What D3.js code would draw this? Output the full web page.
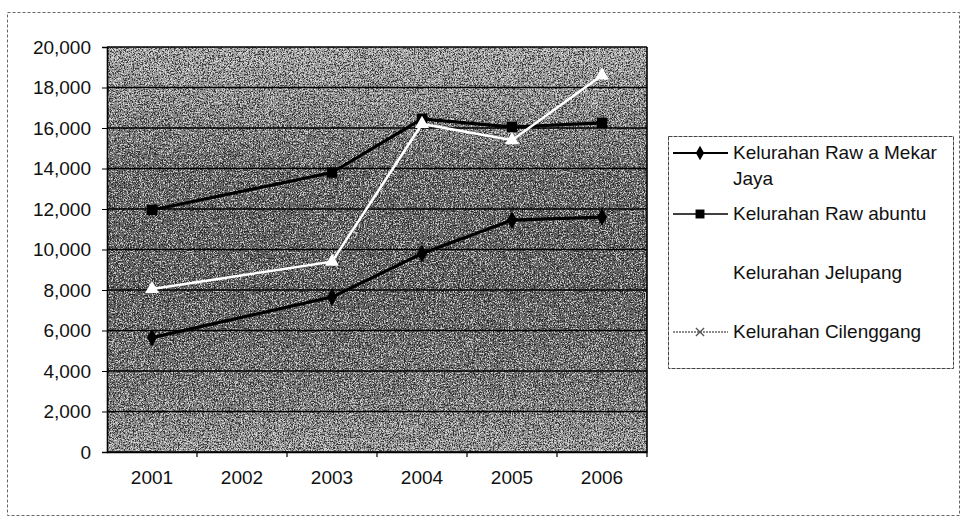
<!DOCTYPE html>
<html>
<head>
<meta charset="utf-8">
<script src="https://cdn.jsdelivr.net/npm/d3@7"></script>
<style>
  html, body { margin: 0; padding: 0; background: #fff; }
  svg { display: block; font-family: "Liberation Sans", Arial, sans-serif; }
</style>
</head>
<body>
<svg id="chart" width="967" height="531"></svg>
<script>
const years = ["2001", "2002", "2003", "2004", "2005", "2006"];
const yTicks = [0, 2000, 4000, 6000, 8000, 10000, 12000, 14000, 16000, 18000, 20000];

// 2002 has no visible marker in the picture, so it is left empty
const rawaMekarJaya = [5650, null, 7650, 9800, 11450, 11600];
const rawabuntu = [11950, null, 13800, 16450, 16050, 16250];
const jelupang = [8050, null, 9400, 16200, 15400, 18600];
// Cilenggang line is not readable on the scanned background
const cilenggang = [null, null, null, null, null, null];

const seriesNames = [
  ["Kelurahan Raw a Mekar", "Jaya"],
  ["Kelurahan Raw abuntu"],
  ["Kelurahan Jelupang"],
  ["Kelurahan Cilenggang"],
];

const series = [
  { name: seriesNames[0], values: rawaMekarJaya, color: "#000", width: 3.2, marker: "diamond" },
  { name: seriesNames[1], values: rawabuntu, color: "#000", width: 3.2, marker: "square" },
  { name: seriesNames[2], values: jelupang, color: "#fff", width: 2.5, marker: "triangle" },
  { name: seriesNames[3], values: cilenggang, color: "#777", width: 1.5, marker: "cross" },
];

const svg = d3.select("#chart");
const margin = { top: 47, left: 107 };
const innerWidth = 540;
const innerHeight = 405;

// outer chart border (scanned, dotted)
svg.append("rect")
  .attr("x", 7.5).attr("y", 12.5)
  .attr("width", 952).attr("height", 503)
  .attr("fill", "none")
  .attr("stroke", "#666")
  .attr("stroke-width", 1)
  .attr("stroke-dasharray", "3,2");

const defs = svg.append("defs");
const grad = defs.append("linearGradient")
  .attr("id", "bg").attr("x1", 0).attr("y1", 0).attr("x2", 0).attr("y2", 1);
[[0, "#a4a4a4"], [0.12, "#929292"], [0.3, "#6c6c6c"], [0.6, "#646464"], [0.85, "#7a7a7a"], [1, "#9a9a9a"]]
  .forEach(([o, c]) => grad.append("stop").attr("offset", o).attr("stop-color", c));

// speckle texture of the scan
const makeNoise = (id, rgb, freq, seed) => {
  const f = defs.append("filter").attr("id", id)
    .attr("x", 0).attr("y", 0).attr("width", 1).attr("height", 1)
    .attr("color-interpolation-filters", "sRGB");
  f.append("feTurbulence")
    .attr("type", "fractalNoise")
    .attr("baseFrequency", freq)
    .attr("numOctaves", 2)
    .attr("seed", seed);
  f.append("feColorMatrix")
    .attr("type", "matrix")
    .attr("values", `0 0 0 0 ${rgb}  0 0 0 0 ${rgb}  0 0 0 0 ${rgb}  6 0 0 0 -3`);
  f.append("feComponentTransfer")
    .append("feFuncA").attr("type", "discrete").attr("tableValues", "0 0 1 1");
};
makeNoise("noise", 1, "0.75 0.9", 3);
makeNoise("noiseDark", 0, "0.8 0.7", 11);

const chart = svg.append("g")
  .attr("transform", `translate(${margin.left},${margin.top})`);

const x = d3.scaleBand().domain(years).range([0, innerWidth]).padding(0);
const y = d3.scaleLinear().domain([0, 20000]).range([innerHeight, 0]);
const cx = (d) => x(d) + x.bandwidth() / 2;

chart.append("rect")
  .attr("width", innerWidth).attr("height", innerHeight)
  .attr("fill", "url(#bg)");
chart.append("rect")
  .attr("width", innerWidth).attr("height", innerHeight)
  .attr("fill", "#000")
  .attr("filter", "url(#noise)").attr("opacity", 0.6);
chart.append("rect")
  .attr("width", innerWidth).attr("height", innerHeight)
  .attr("fill", "#000")
  .attr("filter", "url(#noiseDark)").attr("opacity", 0.6);

// gridlines
chart.append("g")
  .selectAll("line")
  .data(yTicks)
  .join("line")
  .attr("x1", 0).attr("x2", innerWidth)
  .attr("y1", (d) => y(d)).attr("y2", (d) => y(d))
  .attr("stroke", "#000")
  .attr("stroke-width", 1.6);

chart.append("line")
  .attr("x1", innerWidth).attr("x2", innerWidth)
  .attr("y1", 0).attr("y2", innerHeight)
  .attr("stroke", "#000").attr("stroke-width", 1.6);

// axes
const yAxis = chart.append("g")
  .call(d3.axisLeft(y).tickValues(yTicks).tickSize(5).tickPadding(11).tickFormat(d3.format(",")));
yAxis.attr("font-size", 19);
yAxis.select(".domain").attr("stroke-width", 1.6);
yAxis.selectAll("text").attr("fill", "#111")
  .attr("font-family", "'Liberation Sans', Arial, sans-serif");

const xAxis = chart.append("g")
  .attr("transform", `translate(0,${innerHeight})`)
  .call(d3.axisBottom(x).tickSize(0).tickPadding(19));
xAxis.attr("font-size", 19);
xAxis.select(".domain").attr("stroke-width", 1.6);
xAxis.selectAll("text").attr("fill", "#111")
  .attr("font-family", "'Liberation Sans', Arial, sans-serif");
xAxis.selectAll(".boundary")
  .data(years.slice(1).concat(["end"]))
  .join("line")
  .attr("class", "boundary")
  .attr("x1", (d) => (d === "end" ? innerWidth : x(d)))
  .attr("x2", (d) => (d === "end" ? innerWidth : x(d)))
  .attr("y1", 0).attr("y2", 5)
  .attr("stroke", "#000").attr("stroke-width", 1.2);

const markerPath = {
  diamond: d3.symbol().type(d3.symbolDiamond).size(90)(),
  square: d3.symbol().type(d3.symbolSquare).size(110)(),
  triangle: d3.symbol().type(d3.symbolTriangle).size(85)(),
  cross: d3.symbol().type(d3.symbolX).size(60)(),
};

const line = d3.line()
  .x((d) => cx(d.year))
  .y((d) => y(d.value));

series.forEach((s) => {
  const pts = years
    .map((year, i) => ({ year, value: s.values[i] }))
    .filter((d) => d.value != null);
  if (!pts.length) return;
  const g = chart.append("g");
  g.append("path")
    .datum(pts)
    .attr("d", line)
    .attr("fill", "none")
    .attr("stroke", s.color)
    .attr("stroke-width", s.width);
  g.selectAll("path.mk")
    .data(pts)
    .join("path")
    .attr("class", "mk")
    .attr("d", markerPath[s.marker])
    .attr("transform", (d) => `translate(${cx(d.year)},${y(d.value)})`)
    .attr("fill", s.marker === "cross" ? "none" : s.color)
    .attr("stroke", s.color)
    .attr("stroke-width", s.marker === "cross" ? 1.5 : 0);
});

// legend
const legend = svg.append("g").attr("transform", "translate(668,136)");
legend.append("rect")
  .attr("x", 0.5).attr("y", 0.5)
  .attr("width", 285).attr("height", 232)
  .attr("fill", "#fff")
  .attr("stroke", "#444")
  .attr("stroke-width", 1)
  .attr("stroke-dasharray", "4,1");

const legendRows = [17, 78, 137, 196];
const legendMarker = {
  diamond: d3.symbol().type(d3.symbolDiamond).size(60)(),
  square: d3.symbol().type(d3.symbolSquare).size(80)(),
  triangle: d3.symbol().type(d3.symbolTriangle).size(60)(),
  cross: d3.symbol().type(d3.symbolX).size(45)(),
};
series.forEach((s, i) => {
  const ly = legendRows[i];
  const row = legend.append("g").attr("transform", `translate(0,${ly})`);
  row.append("line")
    .attr("x1", 5).attr("x2", 60)
    .attr("stroke", s.color === "#fff" ? "#fff" : (i === 3 ? "#666" : "#000"))
    .attr("stroke-width", i === 0 ? 2 : 1.5)
    .attr("stroke-dasharray", i === 3 ? "2,1" : null);
  row.append("path")
    .attr("d", legendMarker[s.marker])
    .attr("transform", "translate(32,0)")
    .attr("fill", s.marker === "cross" ? "none" : s.color)
    .attr("stroke", i === 3 ? "#555" : s.color)
    .attr("stroke-width", s.marker === "cross" ? 1.3 : 0);
  const t = row.append("text")
    .attr("x", 65).attr("y", 6)
    .attr("font-size", 19)
    .attr("fill", "#111");
  s.name.forEach((ln, j) => {
    t.append("tspan").attr("x", 65).attr("dy", j === 0 ? 0 : 26).text(ln);
  });
});
</script>
</body>
</html>
